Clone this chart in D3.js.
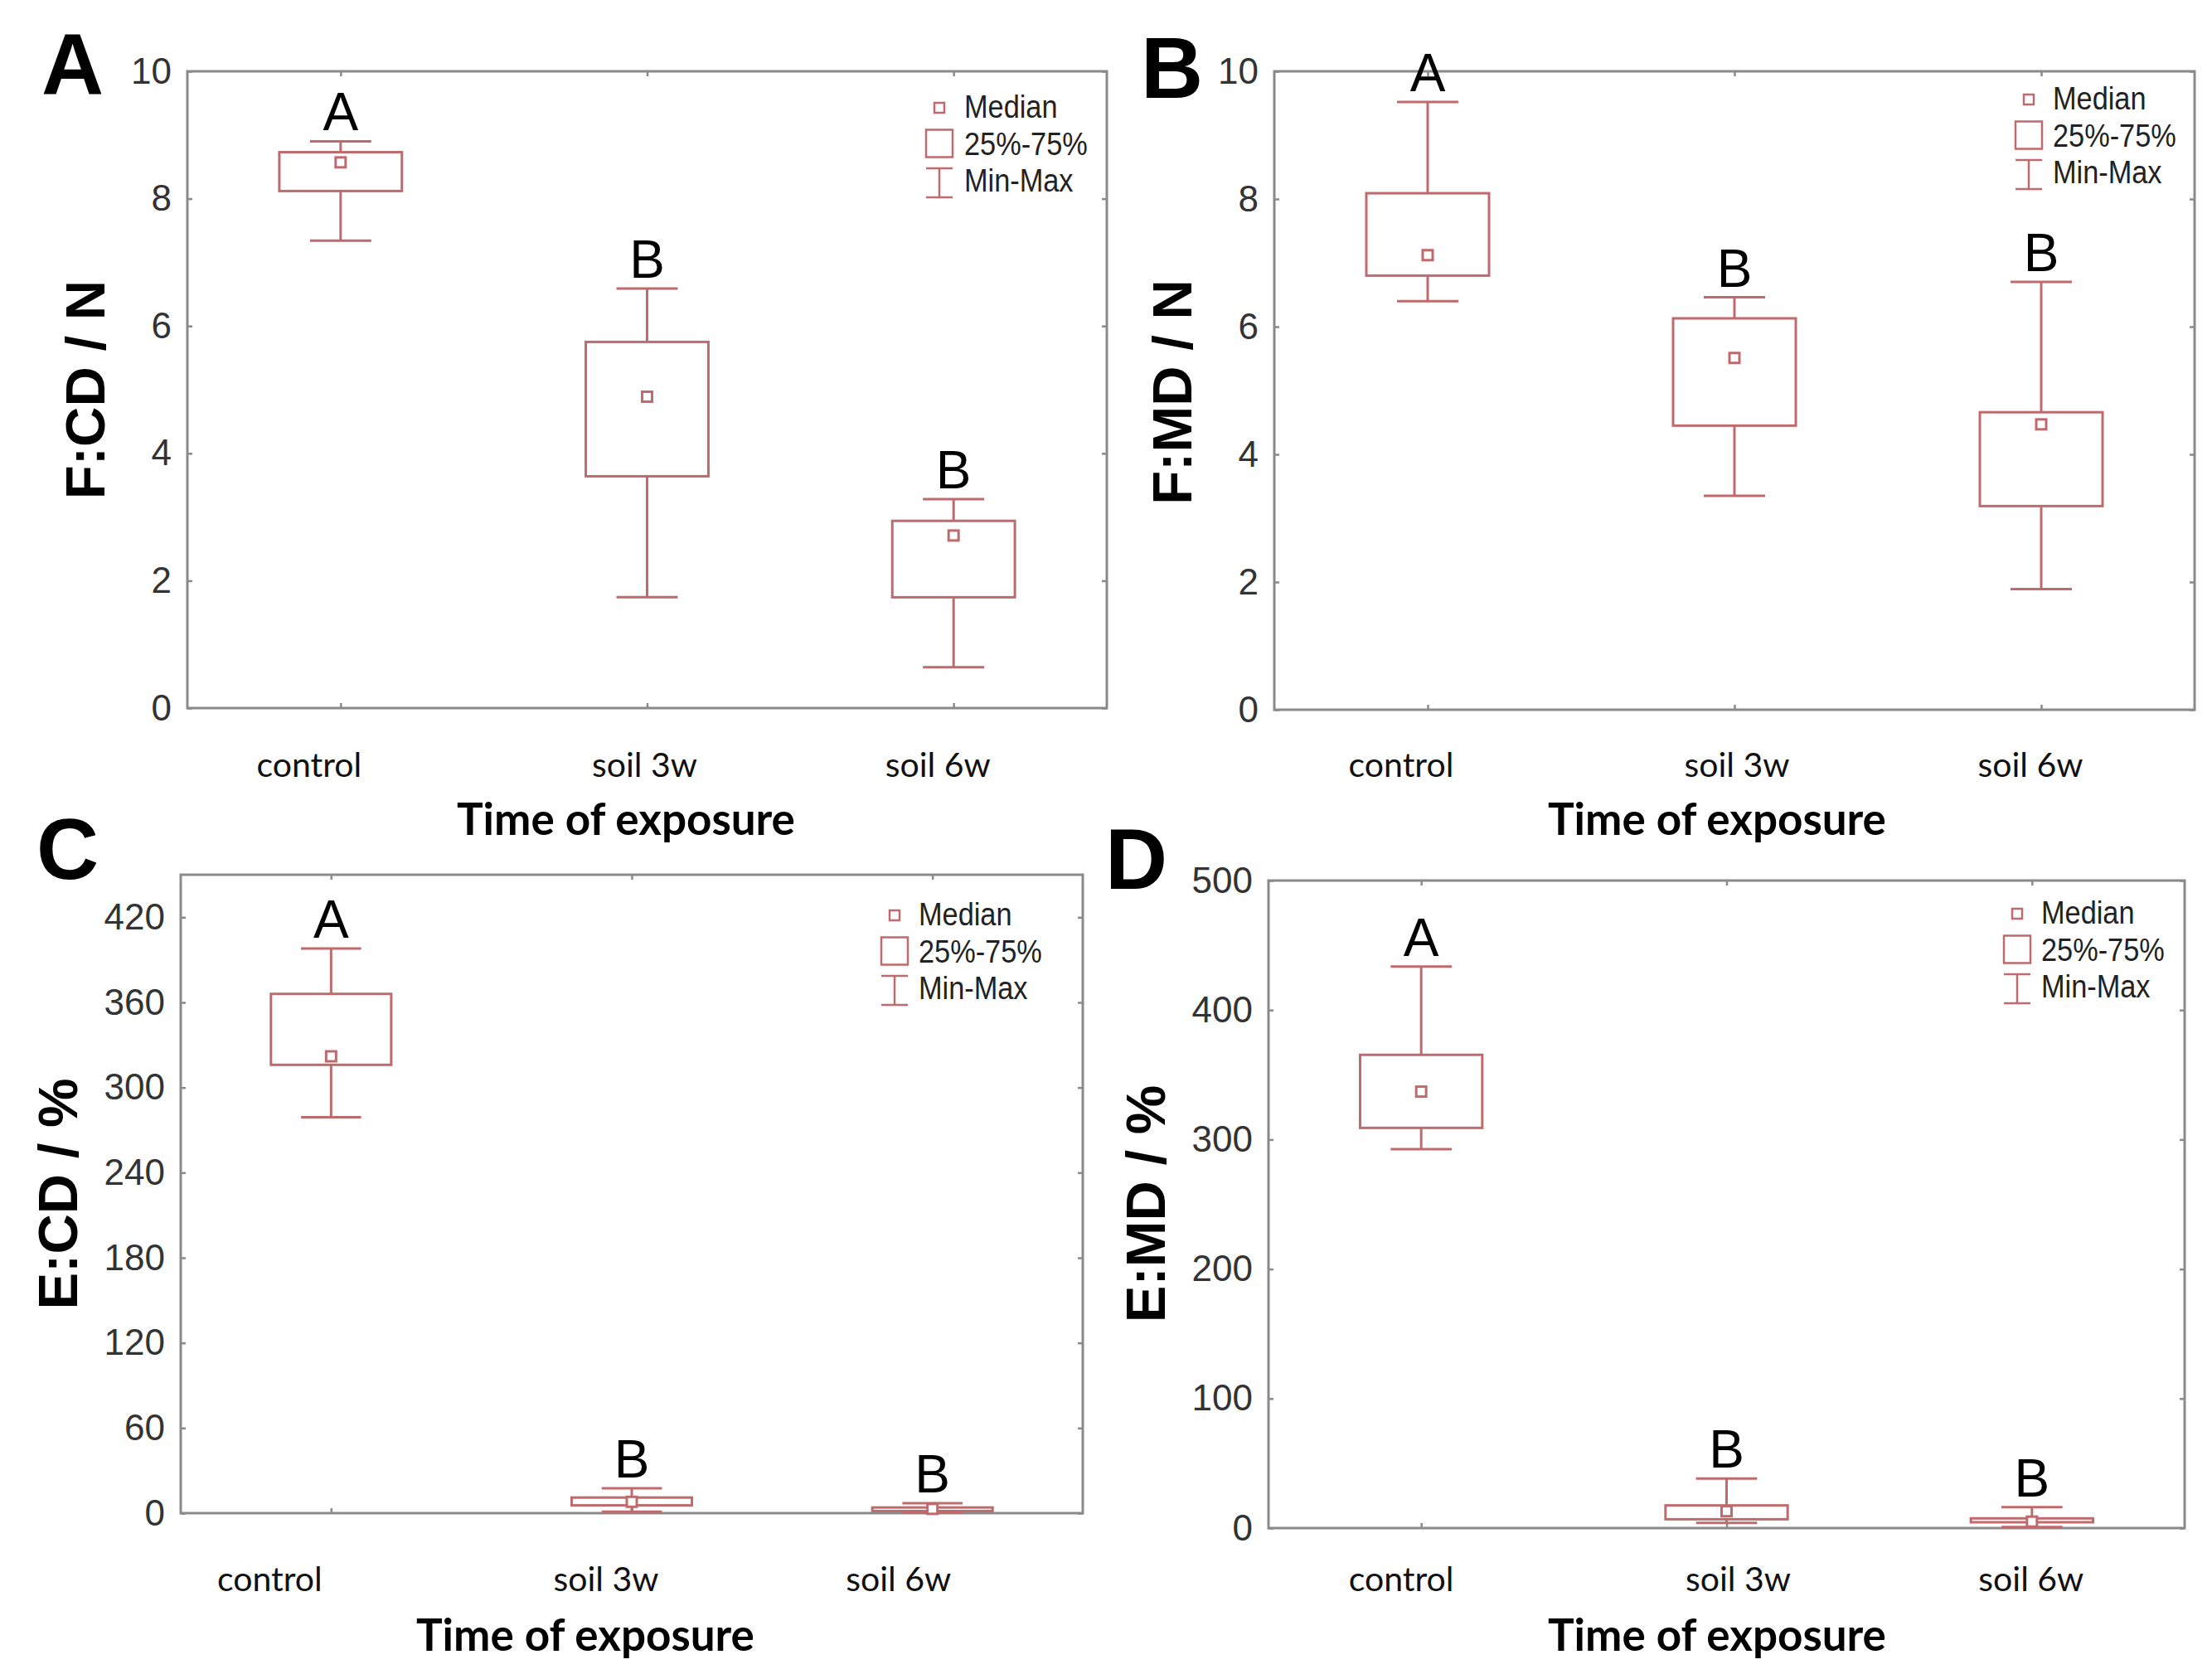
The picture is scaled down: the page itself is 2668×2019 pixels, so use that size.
<!DOCTYPE html>
<html>
<head>
<meta charset="utf-8">
<script src="https://cdn.jsdelivr.net/npm/d3@7"></script>
<style>
  html, body { margin: 0; padding: 0; background: #ffffff; }
  svg { display: block; }
</style>
</head>
<body>
<svg id="chart" width="2668" height="2019"></svg>
<script>
// ---------------- DATA ----------------
const categories = ["control", "soil 3w", "soil 6w"];
const groupLetters = ["A", "B", "B"];

// Panel A : F:CD / N
const fcdMin = [7.34, 1.74, 0.64];
const fcdQ1  = [8.12, 3.64, 1.74];
const fcdMed = [8.57, 4.89, 2.71];
const fcdQ3  = [8.73, 5.75, 2.94];
const fcdMax = [8.90, 6.59, 3.28];

// Panel B : F:MD / N
const fmdMin = [6.40, 3.35, 1.89];
const fmdQ1  = [6.80, 4.45, 3.19];
const fmdMed = [7.12, 5.51, 4.47];
const fmdQ3  = [8.09, 6.13, 4.66];
const fmdMax = [9.52, 6.46, 6.70];

// Panel C : E:CD / %
const ecdMin = [279, 1.0, 0.3];
const ecdQ1  = [316, 5.5, 1.5];
const ecdMed = [322, 8.0, 3.0];
const ecdQ3  = [366, 11.0, 4.0];
const ecdMax = [398, 17.5, 7.0];

// Panel D : E:MD / %
const emdMin = [292.6, 4.0, 0.8];
const emdQ1  = [309, 6.8, 4.5];
const emdMed = [337, 13.0, 5.0];
const emdQ3  = [365.4, 17.5, 7.5];
const emdMax = [433.6, 38.2, 16.2];

// Axis ticks
const fTicks   = [0, 2, 4, 6, 8, 10];
const ecdTicks = [0, 60, 120, 180, 240, 300, 360, 420];
const emdTicks = [0, 100, 200, 300, 400, 500];

const legendLabels = ["Median", "25%-75%", "Min-Max"];
const xTitle = "Time of exposure";

// ---------------- LAYOUT ----------------
const BOX_COLOR = "#bf6a6c";
const FRAME_COLOR = "#8a8a8a";

const panels = [
  { letter: "A", ylabel: "F:CD / N", yDomain: [0, 10], ticks: fTicks,
    min: fcdMin, q1: fcdQ1, med: fcdMed, q3: fcdQ3, max: fcdMax,
    frame: { x0: 226, x1: 1335, y0: 86, y1: 854 },
    letterPos: [50, 113], ylabelPos: [102, 470],
    catDx: [-38, -3, -19], catY: 937, titlePos: [755, 1007],
    legend: { mx: -202, tx: -172, y: 56 } },
  { letter: "B", ylabel: "F:MD / N", yDomain: [0, 10], ticks: fTicks,
    min: fmdMin, q1: fmdQ1, med: fmdMed, q3: fmdQ3, max: fmdMax,
    frame: { x0: 1537, x1: 2647, y0: 86, y1: 856 },
    letterPos: [1376, 118], ylabelPos: [1413, 473],
    catDx: [-32, 3, -13], catY: 937, titlePos: [2071, 1007],
    legend: { mx: -200, tx: -171, y: 46 } },
  { letter: "C", ylabel: "E:CD / %", yDomain: [0, 450], ticks: ecdTicks,
    min: ecdMin, q1: ecdQ1, med: ecdMed, q3: ecdQ3, max: ecdMax,
    frame: { x0: 218, x1: 1306, y0: 1055, y1: 1825 },
    letterPos: [44, 1060], ylabelPos: [69, 1440],
    catDx: [-74, -31, -41], catY: 1919, titlePos: [706, 1991],
    legend: { mx: -227, tx: -198, y: 61 } },
  { letter: "D", ylabel: "E:MD / %", yDomain: [0, 500], ticks: emdTicks,
    min: emdMin, q1: emdQ1, med: emdMed, q3: emdQ3, max: emdMax,
    frame: { x0: 1530, x1: 2635, y0: 1062, y1: 1843 },
    letterPos: [1333, 1072], ylabelPos: [1381, 1452],
    catDx: [-24, 14, -1], catY: 1919, titlePos: [2071, 1991],
    legend: { mx: -202, tx: -173, y: 52 } }
];

const svg = d3.select("#chart");

panels.forEach(p => {
  const f = p.frame;
  const x = d3.scalePoint().domain(categories).range([f.x0, f.x1]).padding(0.5);
  const y = d3.scaleLinear().domain(p.yDomain).range([f.y1, f.y0]);
  const step = x.step();
  const boxW = step * 0.4;
  const capW = step * 0.2;

  const g = svg.append("g");

  // inward ticks on all sides
  const left = g.append("g").attr("transform", `translate(${f.x0},0)`)
    .call(d3.axisLeft(y).tickValues(p.ticks).tickSize(-6).tickSizeOuter(0).tickPadding(19));
  left.select(".domain").remove();
  left.selectAll("text")
    .attr("font-family", "'Liberation Sans', Arial, sans-serif")
    .attr("font-size", 44).attr("fill", "#333");
  left.selectAll("line").attr("stroke", FRAME_COLOR).attr("stroke-width", 2.5);

  const right = g.append("g").attr("transform", `translate(${f.x1},0)`)
    .call(d3.axisRight(y).tickValues(p.ticks).tickSize(-6).tickSizeOuter(0).tickFormat(""));
  right.select(".domain").remove();
  right.selectAll("line").attr("stroke", FRAME_COLOR).attr("stroke-width", 2.5);

  const bottom = g.append("g").attr("transform", `translate(0,${f.y1})`)
    .call(d3.axisBottom(x).tickSize(-6).tickSizeOuter(0).tickFormat(""));
  bottom.select(".domain").remove();
  bottom.selectAll("line").attr("stroke", FRAME_COLOR).attr("stroke-width", 2.5);

  const top = g.append("g").attr("transform", `translate(0,${f.y0})`)
    .call(d3.axisTop(x).tickSize(-6).tickSizeOuter(0).tickFormat(""));
  top.select(".domain").remove();
  top.selectAll("line").attr("stroke", FRAME_COLOR).attr("stroke-width", 2.5);

  // frame
  g.append("rect")
    .attr("x", f.x0).attr("y", f.y0)
    .attr("width", f.x1 - f.x0).attr("height", f.y1 - f.y0)
    .attr("fill", "none").attr("stroke", FRAME_COLOR).attr("stroke-width", 3);

  // boxes
  const idx = d3.range(categories.length);
  const bx = g.append("g").attr("stroke", BOX_COLOR).attr("stroke-width", 3).attr("fill", "none");
  idx.forEach(i => {
    const cx = x(categories[i]);
    // whiskers
    bx.append("line").attr("x1", cx).attr("x2", cx)
      .attr("y1", y(p.q3[i])).attr("y2", y(p.max[i]));
    bx.append("line").attr("x1", cx).attr("x2", cx)
      .attr("y1", y(p.q1[i])).attr("y2", y(p.min[i]));
    bx.append("line").attr("x1", cx - capW / 2).attr("x2", cx + capW / 2)
      .attr("y1", y(p.max[i])).attr("y2", y(p.max[i]));
    bx.append("line").attr("x1", cx - capW / 2).attr("x2", cx + capW / 2)
      .attr("y1", y(p.min[i])).attr("y2", y(p.min[i]));
    // box
    bx.append("rect")
      .attr("x", cx - boxW / 2).attr("width", boxW)
      .attr("y", y(p.q3[i])).attr("height", Math.max(0.5, y(p.q1[i]) - y(p.q3[i])))
      .attr("fill", "#ffffff");
    // median marker
    bx.append("rect")
      .attr("x", cx - 6).attr("y", y(p.med[i]) - 6)
      .attr("width", 12).attr("height", 12).attr("fill", "#ffffff");
    // group letter
    g.append("text")
      .attr("x", cx).attr("y", y(p.max[i]) - 13)
      .attr("text-anchor", "middle")
      .attr("font-family", "'Liberation Sans', Arial, sans-serif")
      .attr("font-size", 64).attr("fill", "#000")
      .text(groupLetters[i]);
    // category label
    g.append("text")
      .attr("x", cx + p.catDx[i]).attr("y", p.catY)
      .attr("text-anchor", "middle")
      .attr("font-family", "Lato, 'Open Sans', sans-serif")
      .attr("font-size", 41).attr("fill", "#111")
      .text(categories[i]);
  });

  // legend
  const L = p.legend;
  const lx = f.x1 + L.mx;
  const tx = f.x1 + L.tx;
  const b0 = f.y0 + L.y;
  const lh = 44.5;
  const lg = g.append("g");
  lg.append("rect").attr("x", lx - 6).attr("y", b0 - 18).attr("width", 12).attr("height", 12)
    .attr("fill", "none").attr("stroke", BOX_COLOR).attr("stroke-width", 2.5);
  lg.append("rect").attr("x", lx - 16).attr("y", b0 + lh - 30).attr("width", 32).attr("height", 33)
    .attr("fill", "none").attr("stroke", BOX_COLOR).attr("stroke-width", 2.5);
  const wy = b0 + 2 * lh;
  lg.append("line").attr("x1", lx).attr("x2", lx).attr("y1", wy - 28).attr("y2", wy + 7)
    .attr("stroke", BOX_COLOR).attr("stroke-width", 2.5);
  lg.append("line").attr("x1", lx - 16).attr("x2", lx + 16).attr("y1", wy - 28).attr("y2", wy - 28)
    .attr("stroke", BOX_COLOR).attr("stroke-width", 2.5);
  lg.append("line").attr("x1", lx - 16).attr("x2", lx + 16).attr("y1", wy + 7).attr("y2", wy + 7)
    .attr("stroke", BOX_COLOR).attr("stroke-width", 2.5);
  legendLabels.forEach((t, k) => {
    lg.append("text")
      .attr("transform", `translate(${tx},${b0 + k * lh}) scale(0.88,1)`)
      .attr("font-family", "'Liberation Sans Narrow', 'Arial Narrow', 'Liberation Sans', sans-serif")
      .attr("font-size", 39).attr("fill", "#222")
      .text(t);
  });

  // panel letter
  svg.append("text")
    .attr("x", p.letterPos[0]).attr("y", p.letterPos[1])
    .attr("font-family", "'Liberation Sans', Arial, sans-serif")
    .attr("font-weight", "bold").attr("font-size", 104).attr("fill", "#000")
    .text(p.letter);

  // y label
  svg.append("text")
    .attr("transform", `translate(${p.ylabelPos[0]},${p.ylabelPos[1]}) rotate(-90)`)
    .attr("text-anchor", "middle").attr("dominant-baseline", "central")
    .attr("font-family", "'Liberation Sans', Arial, sans-serif")
    .attr("font-weight", "bold").attr("font-size", 67).attr("fill", "#000")
    .text(p.ylabel);

  // x title
  svg.append("text")
    .attr("x", p.titlePos[0]).attr("y", p.titlePos[1])
    .attr("text-anchor", "middle")
    .attr("font-family", "Lato, 'Open Sans', sans-serif")
    .attr("font-weight", "bold").attr("font-size", 53).attr("fill", "#000")
    .text(xTitle);
});
</script>
</body>
</html>
